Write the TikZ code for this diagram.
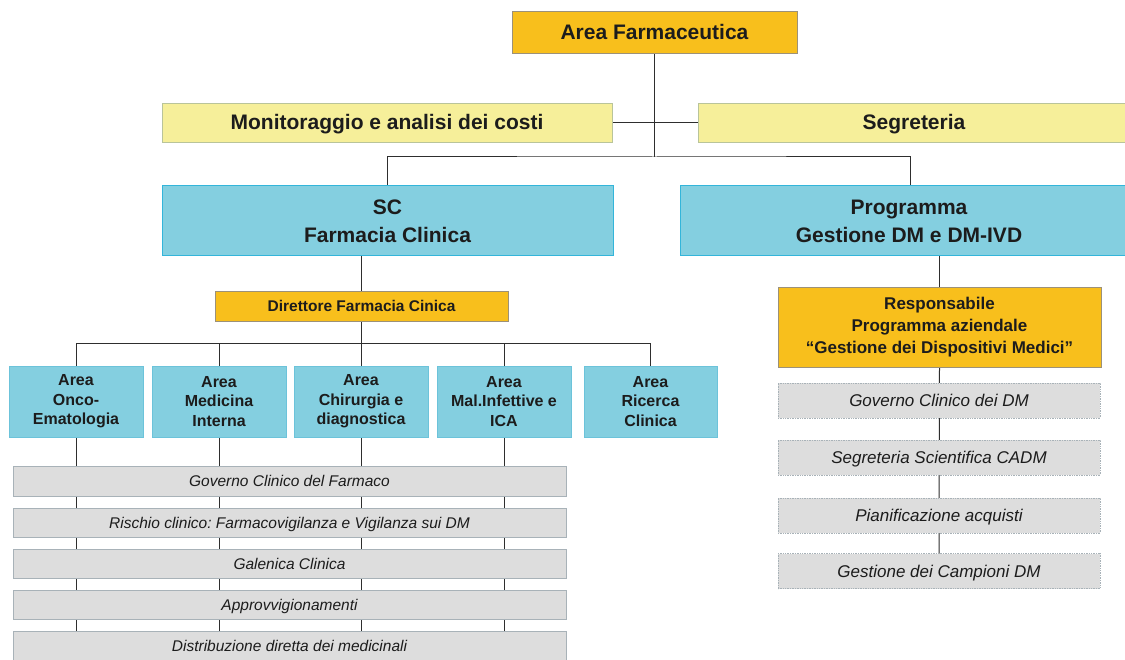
\documentclass[tikz,border=0pt]{standalone}
\usepackage{fontspec}
\setmainfont{Liberation Sans}
\usetikzlibrary{backgrounds}
\definecolor{orng}{HTML}{F8BF1C}
\definecolor{oedge}{HTML}{9C9178}
\definecolor{pyel}{HTML}{F6EF9A}
\definecolor{yedge}{HTML}{B9C49A}
\definecolor{lblue}{HTML}{84CFE0}
\definecolor{bblue}{HTML}{33B5DA}
\definecolor{aedge}{HTML}{6CC3DA}
\definecolor{gfill}{HTML}{DDDDDD}
\definecolor{gedge}{HTML}{A8B2B8}
\definecolor{txt}{HTML}{1C1C1C}
\definecolor{lin}{HTML}{2E2E2E}
\frenchspacing
\begin{document}
\begin{tikzpicture}[x=1pt,y=-1pt,
  every node/.style={inner sep=0pt, outer sep=0pt, align=center, text=txt},
  oneline/.style={text height=#1, text depth=0pt},
  obox/.style={fill=orng, draw=oedge, line width=0.8pt},
  ybox/.style={fill=pyel, draw=yedge, line width=0.8pt, minimum height=39pt, oneline=15pt,
    font=\bfseries\fontsize{21}{26}\selectfont},
  bbox/.style={fill=lblue, draw=bblue, line width=1pt, minimum height=70pt,
    font=\bfseries\fontsize{21}{28}\selectfont},
  abox/.style={fill=lblue, draw=aedge, line width=0.6pt, minimum width=134pt, minimum height=71pt,
    font=\bfseries\fontsize{16}{19.5}\selectfont},
  gbar/.style={fill=gfill, draw=gedge, line width=0.7pt, minimum width=553pt, minimum height=29pt, oneline=11.1pt,
    font=\itshape\fontsize{15.5}{18}\selectfont},
  rbar/.style={fill=gfill, draw=gedge, line width=0.7pt, densely dotted, minimum width=322pt, minimum height=35pt, oneline=12.2pt,
    font=\itshape\fontsize{17}{20}\selectfont},
  conn/.style={draw=lin, line width=1pt}]
\useasboundingbox (0,0) rectangle (1125,660);

% top level
\node[obox, oneline=15pt, minimum width=285pt, minimum height=42pt, font=\bfseries\fontsize{21}{26}\selectfont] (af) at (654.5,32) {Area Farmaceutica};
\node[ybox, minimum width=450pt] (mon) at (387,122.5) {Monitoraggio e analisi dei costi};
\node[ybox, minimum width=432pt] (seg) at (914,122.5) {Segreteria};
\node[bbox, minimum width=451pt] (sc) at (387.5,221) {SC\\Farmacia Clinica};
\node[bbox, minimum width=458pt] (prog) at (909,221) {Programma\\Gestione DM e DM-IVD};

% left branch
\node[obox, oneline=11.1pt, minimum width=293pt, minimum height=30pt, font=\bfseries\fontsize{15.5}{18}\selectfont] (dir) at (361.5,306) {Direttore Farmacia Cinica};
\node[abox] (onco) at (76,401.5) {Area\\Onco-\\Ematologia};
\node[abox] (med) at (219,401.5) {Area\\Medicina\\Interna};
\node[abox] (chir) at (361,401.5) {Area\\Chirurgia e\\diagnostica};
\node[abox] (mal) at (504,401.5) {Area\\Mal.Infettive e\\ICA};
\node[abox, minimum width=133pt] (ric) at (650.5,401.5) {Area\\Ricerca\\Clinica};

\node[gbar, minimum height=30pt] (gov) at (289.5,481) {Governo Clinico del Farmaco};
\node[gbar] (ris) at (289.5,522.5) {Rischio clinico: Farmacovigilanza e Vigilanza sui DM};
\node[gbar] (gal) at (289.5,563.5) {Galenica Clinica};
\node[gbar] (app) at (289.5,604.5) {Approvvigionamenti};
\node[gbar, minimum height=30pt] (dis) at (289.5,646) {Distribuzione diretta dei medicinali};

% right branch
\node[obox, minimum width=323pt, minimum height=80pt, font=\bfseries\fontsize{17}{22}\selectfont] (resp) at (939.5,327) {Responsabile\\Programma aziendale\\\textquotedblleft Gestione dei Dispositivi Medici\textquotedblright};
\node[rbar] (gdm) at (939,400.5) {Governo Clinico dei DM};
\node[rbar] (ssc) at (939,457.5) {Segreteria Scientifica CADM};
\node[rbar] (pia) at (939,515.5) {Pianificazione acquisti};
\node[rbar] (gcp) at (939,571) {Gestione dei Campioni DM};

% helper coordinates
\coordinate (j1) at (654.5,157);
\coordinate (progin) at (910,157);
\coordinate (hl) at (0,344);

\begin{scope}[on background layer]
  \fill[white] (0,0) rectangle (1125,660);
  \draw[conn] (af.south) -- (j1);
  \draw[conn] (mon.east) -- (seg.west);
  \draw[conn] (sc.north) |- (j1) -- (progin) -- (progin |- prog.north);
  \draw[conn] (dir.north) -- (dir.north |- sc.south);
  \draw[conn] (dir.south) -- (dir.south |- hl);
  \draw[conn] (onco.north) -- (onco.north |- hl) -| (ric.north);
  \draw[conn] (med.north) -- (med.north |- hl);
  \draw[conn] (chir.north) -- (chir.north |- hl);
  \draw[conn] (mal.north) -- (mal.north |- hl);
  \draw[conn] (onco.south) -- (onco.south |- dis.south);
  \draw[conn] (med.south) -- (med.south |- dis.south);
  \draw[conn] (chir.south) -- (chir.south |- dis.south);
  \draw[conn] (mal.south) -- (mal.south |- dis.south);
  \draw[conn] (resp.north) -- (resp.north |- prog.south);
  \draw[conn] (resp.south) -- (gcp.north);
\end{scope}
\end{tikzpicture}
\end{document}
